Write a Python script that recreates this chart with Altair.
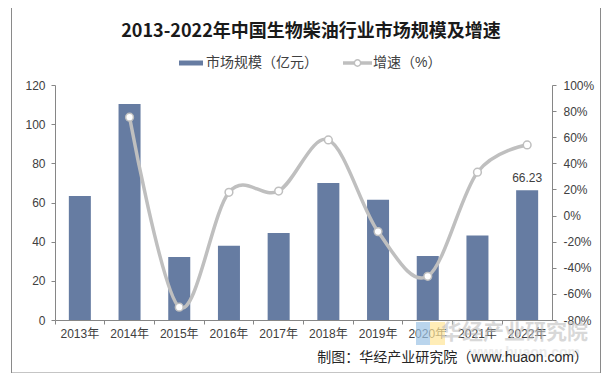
import altair as alt
import pandas as pd

years = ["2013年", "2014年", "2015年", "2016年", "2017年", "2018年", "2019年", "2020年", "2021年", "2022年"]
market = [63.3, 110.3, 32.2, 37.9, 44.4, 70.0, 61.4, 32.7, 43.1, 66.23]
growth = [None, 75.3, -70.2, 17.8, 18.8, 57.9, -12.3, -46.5, 33.2, 54.1]

title_text = "2013-2022年中国生物柴油行业市场规模及增速"
legend_bar = "市场规模（亿元）"
legend_line = "增速（%）"
footer_text = "制图：华经产业研究院（www.huaon.com）"
watermark_text = "华经产业研究院"
watermark_url = "www.huaon.com"

FONT = "Liberation Sans, Noto Sans CJK SC, sans-serif"
BAR = "#667CA2"
LINE = "#BFBFBF"
AX = "#868686"
LBL = "#404040"

df = pd.DataFrame({"year": years, "market": market, "growth": growth})
one = pd.DataFrame({"k": [0]})

x_enc = alt.X(
    "year:N",
    sort=years,
    scale=alt.Scale(paddingInner=0, paddingOuter=0),
    axis=alt.Axis(
        title=None, labelAngle=0, bandPosition=0,
        domainColor=AX, tickColor=AX, tickSize=4, labelPadding=4,
        labelColor=LBL, labelFont=FONT, labelFontSize=12, grid=False, labelOverlap=False,
    ),
)

y_left = alt.Y(
    "market:Q",
    scale=alt.Scale(domain=[0, 120], nice=False, zero=True),
    axis=alt.Axis(
        title=None, values=[0, 20, 40, 60, 80, 100, 120], tickCount=7, grid=False, labelOverlap=False,
        domainColor=AX, tickColor=AX, tickSize=4, labelPadding=6,
        labelColor=LBL, labelFont=FONT, labelFontSize=12,
    ),
)

base = alt.Chart(df)

bars = base.mark_bar(color=BAR, width=alt.RelativeBandSize(0.443)).encode(x=x_enc, y=y_left)

label = base.transform_filter(alt.datum.year == "2022年").mark_text(
    baseline="bottom", dy=-5, font=FONT, fontSize=12, color=LBL
).encode(x=x_enc, y=y_left, text=alt.Text("market:Q", format=".2f"))

bar_layer = alt.layer(bars, label)

line = base.transform_filter("isValid(datum.growth)").mark_line(
    color=LINE, strokeWidth=3.5, interpolate="cardinal",
    point=alt.OverlayMarkDef(filled=True, fill="white", stroke=LINE, strokeWidth=1.5, size=60, opacity=1),
).encode(
    x=x_enc,
    y=alt.Y(
        "growth:Q",
        scale=alt.Scale(domain=[-80, 100], nice=False, zero=False),
        axis=alt.Axis(
            title=None, orient="right", values=list(range(-80, 101, 20)), grid=False, labelOverlap=False,
            labelExpr="datum.value + '%'",
            domainColor=AX, tickColor=AX, tickSize=4, labelPadding=7,
            labelColor=LBL, labelFont=FONT, labelFontSize=12,
        ),
    ),
)

dec = alt.Chart(one)
border = dec.mark_rect(fill=None, stroke="#8A8A8A", strokeWidth=1).encode(
    x=alt.value(-43.5), x2=alt.value(545.5), y=alt.value(-79), y2=alt.value(288)
)
title = dec.mark_text(
    font="Noto Sans CJK SC", fontSize=18, fontWeight="bold", color="#1a1a1a",
    align="center", baseline="alphabetic"
).encode(x=alt.value(256), y=alt.value(-48), text=alt.value(title_text))

leg_sw = dec.mark_rect(color=BAR).encode(
    x=alt.value(124), x2=alt.value(148), y=alt.value(-24.5), y2=alt.value(-19.5)
)
leg_t1 = dec.mark_text(font=FONT, fontSize=14, color=LBL, align="left", baseline="middle").encode(
    x=alt.value(151), y=alt.value(-22), text=alt.value(legend_bar)
)
leg_ln = dec.mark_rule(color=LINE, strokeWidth=3.5).encode(
    x=alt.value(288), x2=alt.value(317), y=alt.value(-22)
)
leg_pt = dec.mark_point(filled=True, fill="white", stroke=LINE, strokeWidth=1.5, size=40, opacity=1).encode(
    x=alt.value(302.5), y=alt.value(-22)
)
leg_t2 = dec.mark_text(font=FONT, fontSize=14, color=LBL, align="left", baseline="middle").encode(
    x=alt.value(318), y=alt.value(-22), text=alt.value(legend_line)
)

logo_b = dec.mark_rect(color="#9DC3E6", opacity=0.7).encode(
    x=alt.value(361), x2=alt.value(375), y=alt.value(237), y2=alt.value(260)
)
logo_y = dec.mark_rect(color="#FFE699", opacity=0.7).encode(
    x=alt.value(375), x2=alt.value(390), y=alt.value(237), y2=alt.value(260)
)
wm = dec.mark_text(
    font="Noto Sans CJK SC", fontSize=21, fontWeight="bold", color="#BFBFBF", opacity=0.6,
    align="right", baseline="middle"
).encode(x=alt.value(533), y=alt.value(248), text=alt.value(watermark_text))
wm2 = dec.mark_text(
    font=FONT, fontSize=14, fontWeight="bold", color="#D9D9D9", opacity=0.5,
    align="right", baseline="middle"
).encode(x=alt.value(525), y=alt.value(268), text=alt.value(watermark_url))
footer = dec.mark_text(font=FONT, fontSize=14, color="#262626", align="right", baseline="middle").encode(
    x=alt.value(533), y=alt.value(273), text=alt.value(footer_text)
)

chart = alt.layer(
    logo_b, logo_y, wm, wm2, bar_layer, line, border, title, leg_sw, leg_t1, leg_ln, leg_pt, leg_t2, footer
).resolve_scale(y="independent").properties(
    width=497, height=235,
    autosize=alt.AutoSizeParams(type="none"),
    padding={"left": 47, "top": 77, "right": 49, "bottom": 53},
    background="white",
).configure_view(stroke=None)

chart.save("out.html", embed_options={"renderer": "svg", "actions": False})
